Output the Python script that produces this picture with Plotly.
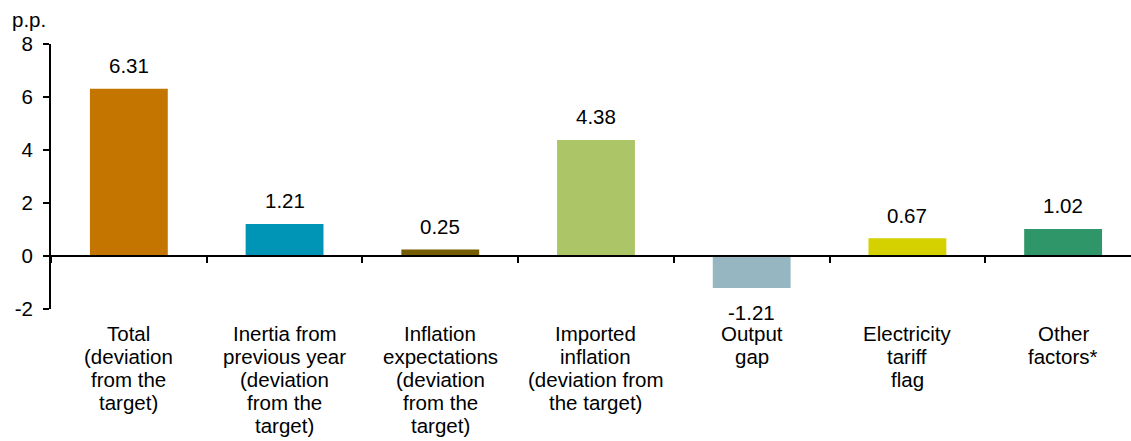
import plotly.graph_objects as go

categories = ["Total", "Inertia", "Expectations", "Imported", "Output gap", "Electricity", "Other"]
category_labels = [
    ["Total", "(deviation", "from the", "target)"],
    ["Inertia from", "previous year", "(deviation", "from the", "target)"],
    ["Inflation", "expectations", "(deviation", "from the", "target)"],
    ["Imported", "inflation", "(deviation from", "the target)"],
    ["Output", "gap"],
    ["Electricity", "tariff", "flag"],
    ["Other", "factors*"],
]
values = [6.31, 1.21, 0.25, 4.38, -1.21, 0.67, 1.02]
colors = ["#C47500", "#0095B6", "#735D00", "#ABC567", "#96B7C2", "#D5D000", "#2E9669"]
ytick_vals = [-2, 0, 2, 4, 6, 8]
ytick_text = ["-2", "0", "2", "4", "6", "8"]

FONT = "Arial, Liberation Sans, sans-serif"
FS = 20.5

fig = go.Figure()
fig.add_trace(go.Bar(
    x=categories, y=values, marker=dict(color=colors, line=dict(width=0)),
    width=0.5, hoverinfo="skip", showlegend=False,
))
# invisible trace to bind the zero-level axis
fig.add_trace(go.Scatter(
    x=categories, y=values, xaxis="x2", mode="markers",
    marker=dict(opacity=0), hoverinfo="skip", showlegend=False,
))

for c, v in zip(categories, values):
    fig.add_annotation(
        x=c, y=v, text=f"{v:.2f}", showarrow=False,
        yshift=23 if v >= 0 else -24, yanchor="middle",
        font=dict(family=FONT, size=FS, color="#000000"),
    )

# category labels (line spacing like the original)
for c, lines in zip(categories, category_labels):
    for i, line in enumerate(lines):
        fig.add_annotation(
            x=c, xref="x", yref="paper", y=0, text=line, showarrow=False,
            yanchor="middle", yshift=-(24 + 23 * i),
            font=dict(family=FONT, size=FS, color="#000000"),
        )

fig.add_annotation(
    xref="paper", yref="paper", x=0, y=1, text="p.p.", showarrow=False,
    xanchor="right", yanchor="bottom", xshift=-3, yshift=11,
    font=dict(family=FONT, size=FS, color="#000000"),
)

xr = [-0.5, 6.436]
fig.update_layout(
    width=1131, height=441,
    margin=dict(l=51, r=0, t=44, b=132),
    paper_bgcolor="white", plot_bgcolor="white",
    font=dict(family=FONT, size=FS, color="#000000"),
    xaxis=dict(
        type="category", range=xr, showline=False, ticks="",
        showgrid=False, zeroline=False, showticklabels=False,
    ),
    xaxis2=dict(
        type="category", range=xr, overlaying="x", anchor="free",
        position=0.2, side="bottom", showline=True, linecolor="#000000",
        linewidth=2, ticks="outside", tickson="boundaries", ticklen=6,
        tickwidth=2, tickcolor="#000000", showticklabels=False,
        showgrid=False, zeroline=False,
    ),
    yaxis=dict(
        range=[-2, 8], tickvals=ytick_vals, ticktext=ytick_text,
        showline=True, linecolor="#000000", linewidth=2,
        ticks="outside", ticklen=6, tickwidth=2, tickcolor="#000000",
        showgrid=False, zeroline=False, ticklabelstandoff=6,
        tickfont=dict(family=FONT, size=FS, color="#000000"),
    ),
)

fig.write_html("out.html")
